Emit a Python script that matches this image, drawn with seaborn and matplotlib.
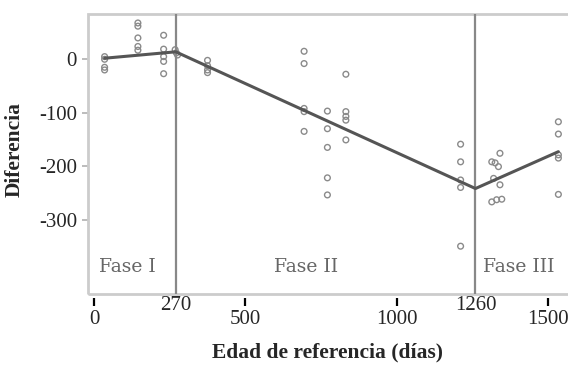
import matplotlib
matplotlib.use("Agg")
import matplotlib.pyplot as plt
import pandas as pd
import seaborn as sns
from matplotlib.patches import Rectangle

# Observed differences by reference age (days)
dias = [35, 35, 35, 35,
        145, 145, 145, 145, 145,
        230, 230, 230, 230, 230,
        268, 272, 276,
        375, 375, 375, 375,
        694, 694, 694, 694, 694,
        771, 771, 771, 771, 771,
        832, 832, 832, 832, 832,
        1211, 1211, 1211, 1211, 1211,
        1341, 1314, 1325, 1336, 1320, 1341, 1314, 1330, 1347,
        1534, 1534, 1534, 1534, 1534]
diferencia = [5, 0, -15, -20,
              68, 62, 40, 24, 17,
              45, 19, 5, -4, -27,
              18, 12, 8,
              -2, -12, -20, -25,
              15, -8, -92, -98, -135,
              -97, -130, -165, -222, -254,
              -28, -98, -107, -114, -151,
              -159, -192, -226, -240, -350,
              -176, -192, -194, -201, -223, -235, -267, -263, -262,
              -117, -140, -179, -185, -253]

# Segmented (three-phase) fit
tramo_x = [35, 270, 1260, 1534]
tramo_y = [2, 14, -242, -173]

# Phase boundaries and names
cortes = [270, 1260]
fases = ["Fase I", "Fase II", "Fase III"]

xticks_major = [0, 500, 1000, 1500]

sns.set_theme(style="white")
plt.rcParams["font.family"] = ["Liberation Serif", "DejaVu Serif"]

fig = plt.figure(figsize=(5.68, 3.67), dpi=100)
ax = fig.add_axes([87.5 / 568, 1 - 294 / 367, (572 - 87.5) / 568, (294 - 14) / 367])

puntos = pd.DataFrame({"dias": dias, "diferencia": diferencia})
sns.scatterplot(data=puntos, x="dias", y="diferencia", ax=ax, marker="o",
                s=17, facecolor="none", edgecolor="#8a8a8a", linewidth=1.0,
                zorder=3)
sns.lineplot(x=tramo_x, y=tramo_y, ax=ax, color="#555555", linewidth=2.2,
             sort=False, estimator=None, zorder=4)

for c in cortes:
    ax.axvline(c, color="#888888", linewidth=1.6, zorder=2)

ax.set_xlim(-21.5, 1579)
ax.set_ylim(-439.5, 84.8)

# Light frame around the plotting area
for s in ax.spines.values():
    s.set_visible(False)
ax.add_patch(Rectangle((0, 0), 1, 1, transform=ax.transAxes, fill=False,
                       edgecolor="#cccccc", linewidth=2.0, clip_on=False,
                       zorder=1))

# x axis: detached major ticks, boundary labels without ticks
ax.spines["bottom"].set_position(("outward", 3))
ax.set_xticks(xticks_major)
ax.set_xticklabels([str(v) for v in xticks_major])
ax.set_xticks(cortes, minor=True)
ax.set_xticklabels([str(v) for v in cortes], minor=True)
ax.tick_params(axis="x", which="major", bottom=True, direction="out",
               length=5.5, width=1.6, color="black", pad=3, labelsize=15)
ax.tick_params(axis="x", which="minor", bottom=True, length=0, pad=-1.5,
               labelsize=15)

ax.set_yticks([0, -100, -200, -300])
ax.set_yticklabels(["0", "-100", "-200", "-300"])
ax.tick_params(axis="y", left=True, direction="out", length=4.5, width=1.2,
               color="#b0b0b0", pad=3, labelsize=15)

ax.set_xlabel("Edad de referencia (días)", fontsize=15.5, fontweight="bold")
ax.set_ylabel("Diferencia", fontsize=15.5, fontweight="bold")
ax.xaxis.label.set_verticalalignment("center")
ax.yaxis.label.set_verticalalignment("center")
ax.xaxis.set_label_coords((327 - 87.5) / (572 - 87.5), -(352 - 294) / 280)
ax.yaxis.set_label_coords(-(87.5 - 15) / 484.5, (294 - 150) / 280)

# Phase captions
pos_x = [18, 700, 1404]
for nombre, xpos, ha in zip(fases, pos_x, ["left", "center", "center"]):
    ax.text(xpos, -389, nombre, ha=ha, va="center", fontsize=13.5,
            color="#666666", family=["DejaVu Serif"], zorder=5)

fig.savefig("out.png", dpi=100)
